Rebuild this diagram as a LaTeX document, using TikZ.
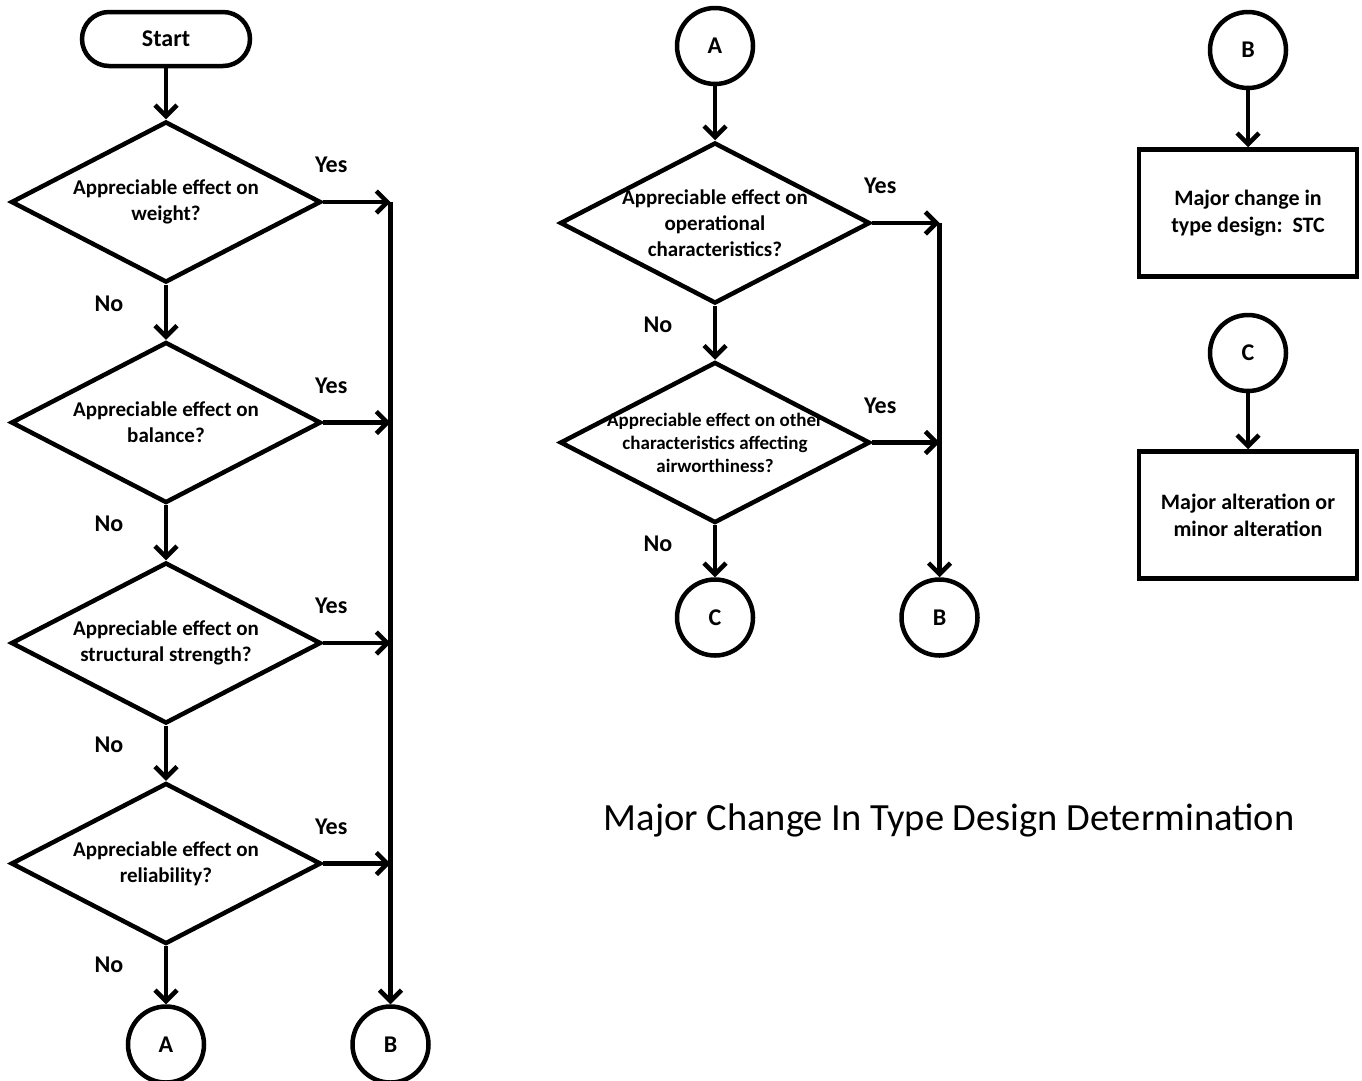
\documentclass[tikz,border=0pt]{standalone}
\usepackage{fontspec}
\setmainfont{Carlito}
\usetikzlibrary{positioning,arrows.meta,shapes.geometric}

\begin{document}
\begin{tikzpicture}[
x=1pt, y=-1pt,
node distance=55pt,
startbox/.style={draw, line width=4.5pt, rounded corners=27pt, minimum width=168pt, minimum height=54pt, font=\fontsize{24}{28}\selectfont\bfseries},
dec/.style={diamond, draw, line width=4.5pt, aspect=1.93, inner sep=-10pt, minimum width=310pt, minimum height=161pt, align=center, font=\fontsize{21}{26}\selectfont\bfseries},
conn/.style={circle, draw, line width=4.5pt, minimum size=76pt, inner sep=0pt, font=\fontsize{24}{28}\selectfont\bfseries},
box/.style={draw, line width=4.5pt, minimum width=218pt, minimum height=127pt, align=center, font=\fontsize{22}{27}\selectfont\bfseries},
lbl/.style={font=\fontsize{24}{28}\selectfont\bfseries},
arr/.style={-{Straight Barb[length=11pt, width=22pt]}, line width=4.5pt}
]
\useasboundingbox (0,0) rectangle (1362,1080);

% left column
\node[startbox] (start) at (166,39) {Start};
\node[dec, below=51pt of start] (weight) {Appreciable effect on\\weight?};
\node[dec, below=of weight] (balance) {Appreciable effect on\\balance?};
\node[dec, below=of balance] (strength) {Appreciable effect on\\structural strength?};
\node[dec, below=of strength] (reliab) {Appreciable effect on\\reliability?};
\node[conn, below=58pt of reliab] (outA) {A};
\node[conn, right=144pt of outA] (outB) {B};

\node[lbl] (yes1) at ([shift={(8,-37)}]weight.east) {Yes};
\node[lbl] (yes2) at ([shift={(8,-37)}]balance.east) {Yes};
\node[lbl] (yes3) at ([shift={(8,-37)}]strength.east) {Yes};
\node[lbl] (yes4) at ([shift={(8,-37)}]reliab.east) {Yes};
\node[lbl] (no1) at ([shift={(-57,19)}]weight.south) {No};
\node[lbl] (no2) at ([shift={(-57,19)}]balance.south) {No};
\node[lbl] (no3) at ([shift={(-57,19)}]strength.south) {No};
\node[lbl] (no4) at ([shift={(-57,19)}]reliab.south) {No};

\draw[arr] (start) -- (weight);
\draw[arr] (weight) -- (balance);
\draw[arr] (balance) -- (strength);
\draw[arr] (strength) -- (reliab);
\draw[arr] (reliab) -- (outA);
\draw[arr] (weight.east -| outB) -- (outB);
\draw[arr] (weight) -- (weight.east -| outB);
\draw[arr] (balance) -- (balance.east -| outB);
\draw[arr] (strength) -- (strength.east -| outB);
\draw[arr] (reliab) -- (reliab.east -| outB);

% middle column
\node[conn] (inA) at (715,46) {A};
\node[dec, below=54pt of inA] (oper) {Appreciable effect on\\operational\\characteristics?};
\node[dec, below=54pt of oper, font=\fontsize{19}{23}\selectfont\bfseries] (airw) {Appreciable effect on other\\characteristics affecting\\airworthiness?};
\node[conn, below=52pt of airw] (outC) {C};
\node[conn, right=144pt of outC] (outB2) {B};

\node[lbl] (yes5) at ([shift={(8,-37)}]oper.east) {Yes};
\node[lbl] (yes6) at ([shift={(8,-37)}]airw.east) {Yes};
\node[lbl] (no5) at ([shift={(-57,19)}]oper.south) {No};
\node[lbl] (no6) at ([shift={(-57,19)}]airw.south) {No};

\draw[arr] (inA) -- (oper);
\draw[arr] (oper) -- (airw);
\draw[arr] (airw) -- (outC);
\draw[arr] (oper.east -| outB2) -- (outB2);
\draw[arr] (oper) -- (oper.east -| outB2);
\draw[arr] (airw) -- (airw.east -| outB2);

% right column
\node[conn] (inB) at (1248,50) {B};
\node[box, below=57pt of inB] (stc) {Major change in\\type design:~~STC};
\node[conn, below=34pt of stc] (inC) {C};
\node[box, below=56pt of inC] (alter) {Major alteration or\\minor alteration};
\draw[arr] (inB) -- (stc);
\draw[arr] (inC) -- (alter);

\node[font=\fontsize{38.5}{44}\selectfont] (title) at (949,820) {Major Change In Type Design Determination};
\end{tikzpicture}
\end{document}
